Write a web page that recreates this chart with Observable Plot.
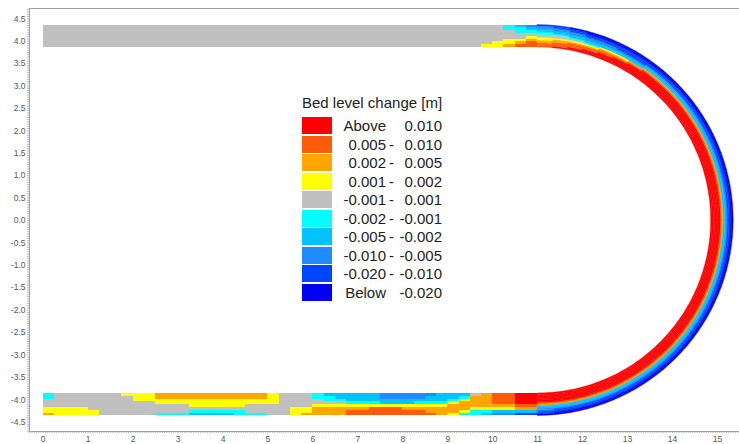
<!DOCTYPE html>
<html><head><meta charset="utf-8">
<script src="https://cdn.jsdelivr.net/npm/d3@7"></script>
<script src="https://cdn.jsdelivr.net/npm/@observablehq/plot@0.6"></script>
<style>
body{margin:0;background:#fff;}
#wrap{position:relative;width:739px;height:444px;overflow:hidden;font-family:"Liberation Sans",Arial,sans-serif;background:#fff;}
#wrap svg{position:absolute;left:0;top:0;}
.lg{position:absolute;font-size:15px;color:#222;line-height:17px;white-space:nowrap;}
</style></head><body><div id="wrap"></div>
<script>
// ---- classes / legend ----
const classCodes  = ["A","B","C","D","E","F","G","H","I","J"];
const classColors = ["#ff0000","#ff5a0a","#ffa500","#ffff00","#c0c0c0","#00ffff","#00c3ff","#1e8cff","#0046ff","#0000f5"];
const legendTitle = "Bed level change [m]";
const legendLow   = ["Above","0.005","0.002","0.001","-0.001","-0.002","-0.005","-0.010","-0.020","Below"];
const legendHigh  = ["0.010","0.010","0.005","0.002","0.001","-0.001","-0.002","-0.005","-0.010","-0.020"];
const legendDash  = [false,true,true,true,true,true,true,true,true,false];

// ---- axes ----
const xTicks = [0,1,2,3,4,5,6,7,8,9,10,11,12,13,14,15];
const yTicks = [4.5,4.0,3.5,3.0,2.5,2.0,1.5,1.0,0.5,0.0,-0.5,-1.0,-1.5,-2.0,-2.5,-3.0,-3.5,-4.0,-4.5];
const xDomain = [-0.305, 15.49];
const yDomain = [-4.708, 4.73];

// ---- channel cells (row 0 = inner bank, row 7 = outer bank), 44 cells of 0.25 m ----
const topRows = [
  "EEEEEEEEEEEEEEEEEEEEEEEEEEEEEEEEEEEEEEEDDCBB",
  "EEEEEEEEEEEEEEEEEEEEEEEEEEEEEEEEEEEEEEEEDDCB",
  "EEEEEEEEEEEEEEEEEEEEEEEEEEEEEEEEEEEEEEEEEDDC",
  "EEEEEEEEEEEEEEEEEEEEEEEEEEEEEEEEEEEEEEEEEEED",
  "EEEEEEEEEEEEEEEEEEEEEEEEEEEEEEEEEEEEEEEEEEEE",
  "EEEEEEEEEEEEEEEEEEEEEEEEEEEEEEEEEEEEEEEEEEFF",
  "EEEEEEEEEEEEEEEEEEEEEEEEEEEEEEEEEEEEEEEEEFFG",
  "EEEEEEEEEEEEEEEEEEEEEEEEEEEEEEEEEEEEEEEEEFGH"
];
const bottomRows = [
  "FEEEEEEDDDCCCCCCCCCCDEEEFGGGGGHHHHHGGGECBBAA",
  "FEEEEEEEDDCCCCCCCCCCDEEEFFGGGGHHHHGGGFCCBBAA",
  "EEEEEEEEDDDDDDDDDDDDDEEEEFFGGGGGGGGGFDCCBBAA",
  "EEEEEEEEEEDDDDDDDDDDDEEEEEEFFFGGGFFFDCCCBBAA",
  "EEEEEEEEEEEEEDDDDDEEEEEEDDDDDDDDDDDDCCCCCCBB",
  "DDDDEEEEEEEEEEEEEEEEEEDDCCCCCBBBCCCCCCDDDDCC",
  "DDDDDEEEEEEEEFFFFFEEEEDDCCCBBBBBBBCCCDFFGGGG",
  "CDDDDEEEEEFFFGGGGFFFEEDCCCCBBBBBBBBCDFFGHHII"
];
// bend: 36 segments of 5 degrees from the upper straight, 16 radial cells inner -> outer
const bendSegments = [
  "BBBCCDDEEFFGGHHI","ABBBCCDEEFGGHHII","AABBBCDEFGGHHIIJ","AAABBCDFGGHHIIJJ",
  "AAAABBCDGGHHIIJJ","AAAAABCDGGHIIIJJ","AAAAAABCGGHIIIJJ","AAAAAAABCGGHIIJJ",
  "AAAAAAABCGGHIIJJ","AAAAAAABCGGHIIJJ","AAAAAAABCGGHIIJJ","AAAAAAABCGGHIIJJ",
  "AAAAAAABCGGHIIJJ","AAAAAAABCGGHIIJJ","AAAAAAABCGGHIIJJ","AAAAAAABCGGHIIJJ",
  "AAAAAAABCGGHIIJJ","AAAAAAABCGGHIIJJ","AAAAAAABCGGHIIJJ","AAAAAAABCGGHIIJJ",
  "AAAAAAABCGGHIIJJ","AAAAAAABCGGHIIJJ","AAAAAAABCGGHIIJJ","AAAAAAABCGGHIIJJ",
  "AAAAAAABCGGHIIJJ","AAAAAAABCGGHIIJJ","AAAAAAABCGGHIIJJ","AAAAAAABCGGHIIJJ",
  "AAAAAAABCGGHIIJJ","AAAAAAABCGGHIIJJ","AAAAAAABCGGHIIJJ","AAAAAAABCGGHIIJJ",
  "AAAAAAABCGGHIIJJ","AAAAAAABCGGHIIJJ","AAAAAAABCGGHIIJJ","AAAAAAABCGGHHIIJ"
];

// ---- geometry of the flume ----
const innerR = 3.86, outerR = 4.36, bendX = 11, cellLen = 0.25, segDeg = 5;

// merge consecutive equal cells of a row into one rectangle
const cells = [];
const nS = topRows.length, drS = (outerR - innerR) / nS;
function addRow(row, r, sign) {
  let start = 0;
  for (let c = 1; c <= row.length; c++) {
    if (c === row.length || row[c] !== row[start]) {
      const y1 = sign * (innerR + r * drS);
      cells.push({x1: start * cellLen, x2: c * cellLen, y1, y2: y1 + sign * drS, code: row[start]});
      start = c;
    }
  }
}
topRows.forEach((row, r) => addRow(row, r, 1));
bottomRows.forEach((row, r) => addRow(row, r, -1));

const bendPts = [];
const nB = bendSegments[0].length, drB = (outerR - innerR) / nB;
bendSegments.forEach((prof, s) => {
  const t0 = 90 - s * segDeg;
  [...prof].forEach((code, k) => {
    const rIn = innerR + k * drB, rOut = rIn + drB;
    const id = s + "-" + k;
    [t0, t0 - segDeg / 2, t0 - segDeg].forEach(t => {
      const a = t * Math.PI / 180;
      bendPts.push({id, code,
        x1: bendX + rIn * Math.cos(a), y1: rIn * Math.sin(a),
        x2: bendX + rOut * Math.cos(a), y2: rOut * Math.sin(a)});
    });
  });
});

const minorX = d3.range(-0.3, 15.5, 0.05);
const minorY = d3.range(-4.7, 4.73, 0.05);
const axisCol = "#a0a0a0";

const chart = Plot.plot({
  width: 739, height: 444,
  marginLeft: 29, marginRight: 0, marginTop: 8, marginBottom: 13,
  x: {domain: xDomain},
  y: {domain: yDomain},
  color: {type: "ordinal", domain: classCodes, range: classColors},
  style: {fontFamily: "'Liberation Sans', Arial, sans-serif", background: "transparent"},
  marks: [
    Plot.rect(cells, {x1: "x1", x2: "x2", y1: "y1", y2: "y2", fill: "code", shapeRendering: "crispEdges"}),
    Plot.area(bendPts, {x1: "x1", y1: "y1", x2: "x2", y2: "y2", z: "id", fill: "code", stroke: "code", strokeWidth: 0.4}),
    Plot.axisY({ticks: minorY, tickSize: 2, tickFormat: () => "", stroke: "#b8b8b8"}),
    Plot.axisX({ticks: minorX, tickSize: 2, tickFormat: () => "", stroke: "#b8b8b8"}),
    Plot.axisY({ticks: yTicks, tickSize: 0, tickPadding: 4, tickFormat: d => d.toFixed(1), fontSize: 8.5, fill: "#555"}),
    Plot.axisX({ticks: xTicks, tickSize: 0, tickPadding: 4, tickFormat: d => String(d), fontSize: 8.5, fill: "#555"}),
    Plot.ruleX([xDomain[0]], {stroke: axisCol}),
    Plot.ruleY([yDomain[0]], {stroke: axisCol}),
    Plot.ruleY([yDomain[1]], {stroke: axisCol})
  ]
});

const wrap = document.getElementById("wrap");
wrap.appendChild(chart);

// ---- legend ----
function addDiv(text, css) {
  const d = document.createElement("div");
  d.className = "lg";
  d.textContent = text;
  Object.assign(d.style, css);
  wrap.appendChild(d);
  return d;
}
addDiv(legendTitle, {left: "302px", top: "94px"});
classCodes.forEach((code, i) => {
  const top = 117 + i * 18.56;
  const sw = document.createElement("div");
  Object.assign(sw.style, {position: "absolute", left: "302px", top: top + "px", width: "30px", height: "17px", background: classColors[i]});
  wrap.appendChild(sw);
  addDiv(legendLow[i], {left: "326px", top: top + "px", width: "60px", textAlign: "right"});
  if (legendDash[i]) addDiv("-", {left: "389px", top: top + "px"});
  addDiv(legendHigh[i], {left: "392px", top: top + "px", width: "50px", textAlign: "right"});
});
</script>
</body></html>
